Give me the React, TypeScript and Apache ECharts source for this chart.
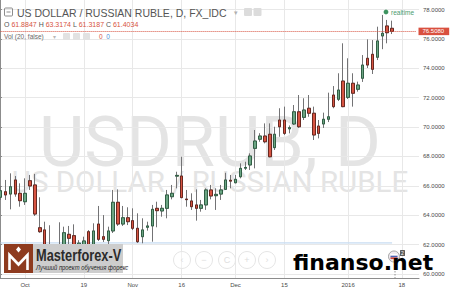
import React, { useEffect, useRef } from 'react';
import * as echarts from 'echarts';

// Trading days (FX_IDC keeps holidays as sessions), Sep 24 2015 .. Jan 21 2016
const DATES = [
  '2015-09-24', '2015-09-25', '2015-09-28', '2015-09-29', '2015-09-30',
  '2015-10-01', '2015-10-02', '2015-10-05', '2015-10-06', '2015-10-07', '2015-10-08', '2015-10-09',
  '2015-10-12', '2015-10-13', '2015-10-14', '2015-10-15', '2015-10-16',
  '2015-10-19', '2015-10-20', '2015-10-21', '2015-10-22', '2015-10-23',
  '2015-10-26', '2015-10-27', '2015-10-28', '2015-10-29', '2015-10-30',
  '2015-11-02', '2015-11-03', '2015-11-04', '2015-11-05', '2015-11-06',
  '2015-11-09', '2015-11-10', '2015-11-11', '2015-11-12', '2015-11-13',
  '2015-11-16', '2015-11-17', '2015-11-18', '2015-11-19', '2015-11-20',
  '2015-11-23', '2015-11-24', '2015-11-25', '2015-11-26', '2015-11-27',
  '2015-11-30', '2015-12-01', '2015-12-02', '2015-12-03', '2015-12-04',
  '2015-12-07', '2015-12-08', '2015-12-09', '2015-12-10', '2015-12-11',
  '2015-12-14', '2015-12-15', '2015-12-16', '2015-12-17', '2015-12-18',
  '2015-12-21', '2015-12-22', '2015-12-23', '2015-12-24', '2015-12-25',
  '2015-12-28', '2015-12-29', '2015-12-30', '2015-12-31', '2016-01-01',
  '2016-01-04', '2016-01-05', '2016-01-06', '2016-01-07', '2016-01-08',
  '2016-01-11', '2016-01-12', '2016-01-13', '2016-01-14', '2016-01-15',
  '2016-01-18', '2016-01-19', '2016-01-20', '2016-01-21',
];

const OPEN = [
  65.22, 65.60, 65.44, 66.40, 65.49, 64.92, 66.35, 66.06, 63.15, 63.00,
  61.8847, 61.45, 61.70, 61.85, 62.70, 62.61, 61.90, 61.85, 62.88, 61.95,
  63.40, 62.54, 62.27, 62.93, 64.88, 63.40, 63.83, 63.63, 63.11, 62.54,
  63.18, 63.27, 64.47, 64.29, 64.47, 65.26, 66.66, 66.67, 65.10, 64.97,
  64.70, 64.47, 64.70, 65.72, 65.33, 65.44, 65.76, 66.38, 66.21, 66.62,
  67.20, 67.42, 68.55, 69.17, 69.39, 69.51, 68.60, 70.48, 70.48, 69.88,
  70.21, 71.04, 70.66, 71.28, 70.94, 70.07, 70.21, 70.53, 72.18, 71.89,
  73.13, 72.02, 72.98, 72.57, 73.32, 74.68, 74.95, 74.75, 76.20, 76.88,
  76.72,
];
const CLOSE = [
  65.67, 65.38, 65.94, 65.44, 64.99, 65.49, 65.99, 64.08, 62.88, 61.86,
  61.4034, 61.85, 61.95, 62.81, 62.43, 61.90, 62.10, 62.25, 61.95, 62.93,
  62.36, 62.36, 62.93, 64.88, 63.40, 63.83, 63.56, 63.11, 62.20, 63.00,
  63.27, 64.40, 64.31, 64.47, 65.38, 65.49, 66.71, 65.20, 65.06, 64.58,
  64.47, 64.70, 65.72, 65.31, 65.42, 65.72, 66.40, 66.32, 66.44, 67.19,
  67.25, 68.03, 69.05, 69.39, 69.00, 67.98, 69.51, 70.02, 69.57, 69.96,
  71.04, 70.02, 71.16, 70.94, 69.46, 69.57, 70.53, 70.70, 71.39, 72.52,
  71.39, 72.98, 72.30, 72.86, 74.22, 74.22, 73.93, 75.86, 76.38, 76.42,
  76.508,
];
const LOW = [
  65.04, 65.04, 64.40, 65.26, 64.58, 64.70, 65.72, 63.95, 62.80, 61.60,
  61.3187, 61.20, 61.50, 61.70, 61.97, 61.75, 61.70, 61.70, 61.80, 61.85,
  62.25, 62.18, 61.97, 62.79, 63.27, 63.27, 63.33, 62.99, 62.11, 62.09,
  62.95, 62.20, 63.18, 63.90, 63.79, 65.08, 65.83, 65.15, 64.58, 64.36,
  63.63, 64.24, 64.36, 65.08, 64.36, 65.04, 65.72, 65.83, 66.17, 66.51,
  67.08, 67.08, 67.19, 69.00, 68.89, 67.94, 68.44, 69.34, 69.46, 69.57,
  70.14, 69.94, 70.48, 70.70, 69.12, 69.23, 69.94, 70.34, 71.28, 71.77,
  71.35, 71.91, 71.39, 72.41, 73.07, 74.02, 73.61, 74.56, 75.30, 75.70,
  76.33,
];
const HIGH = [
  65.99, 66.40, 66.85, 66.67, 66.17, 66.51, 66.74, 66.81, 65.22, 63.56,
  63.3174, 61.95, 63.52, 63.22, 63.27, 63.38, 62.30, 62.54, 62.99, 63.45,
  64.63, 64.01, 63.22, 65.72, 65.76, 64.63, 64.54, 64.47, 64.13, 63.79,
  63.56, 64.70, 64.92, 64.70, 65.72, 66.06, 66.96, 67.98, 65.72, 65.49,
  65.76, 65.04, 65.83, 66.06, 65.83, 66.06, 66.89, 66.74, 66.74, 67.53,
  67.64, 68.21, 69.80, 69.58, 70.25, 70.25, 70.02, 71.28, 71.39, 70.11,
  71.50, 72.18, 71.96, 72.18, 71.39, 70.48, 70.98, 72.34, 72.79, 73.66,
  75.70, 74.68, 73.66, 73.09, 74.90, 75.97, 75.92, 76.83, 77.63, 77.29,
  77.24,
];

// Volume is not reported for this symbol: volume and its 20-day MA are both 0
const VOLUME_VALUES = [0, 0];

const TICK_DATES = ['2015-10-01', '2015-10-19', '2015-11-02', '2015-11-16', '2015-12-01', '2015-12-15', '2016-01-01', '2016-01-18'];
const TICK_LABELS = ['Oct', '19', 'Nov', '16', 'Dec', '15', '2016', '18'];

const PRICE_MIN = 60;
const PRICE_MAX = 78;
const PRICE_STEP = 2;

const TITLE = 'US DOLLAR / RUSSIAN RUBLE, D, FX_IDC';
const WATERMARK_SYMBOL = 'USDRUB, D';
const WATERMARK_NAME = 'US DOLLAR / RUSSIAN RUBLE';
const HEADER_BAR = 10; // bar whose OHLC is shown in the legend

// ---- layout -------------------------------------------------------------
const W = 450;
const H = 290;
const AXIS_X = 419; // price scale line
const AXIS_Y = 278; // time scale line
const Y_AT_MAX = 9.5; // pixel row of PRICE_MAX
const Y_AT_MIN = 274; // pixel row of PRICE_MIN
const FIRST_X = 0.61; // centre of the first session
const STEP_X = 4.8935; // width of one session

const PX_PER_UNIT = (Y_AT_MIN - Y_AT_MAX) / (PRICE_MAX - PRICE_MIN);
const PRICE_TOP = PRICE_MAX + Y_AT_MAX / PX_PER_UNIT;
const PRICE_BOTTOM = PRICE_MIN - (AXIS_Y - Y_AT_MIN) / PX_PER_UNIT;
const LAST_X = FIRST_X + (DATES.length - 1) * STEP_X;

const UP = '#6ba583';
const UP_BORDER = '#225437';
const DOWN = '#d75442';
const DOWN_BORDER = '#5b1a13';
const WICK = '#737375';
const FONT = '"Liberation Sans", Arial, sans-serif';

function buildOption(): echarts.EChartsOption {
  const wicks = OPEN.map((o, i) => [o, CLOSE[i], LOW[i], HIGH[i]]);
  const bodies = OPEN.map((o, i) => [o, CLOSE[i], Math.min(o, CLOSE[i]), Math.max(o, CLOSE[i])]);
  const volumeMa = OPEN.map(() => VOLUME_VALUES[1]);
  const lastClose = CLOSE[CLOSE.length - 1];
  const isTick = (_i: number, v: string) => TICK_DATES.indexOf(v) >= 0;
  const f4 = (v: number) => v.toFixed(4);
  const navX = [182, 204, 227, 247, 267];
  const navGlyph = ['‹', '−', 'C', '+', '›'];

  return {
    animation: false,
    backgroundColor: '#ffffff',
    textStyle: { fontFamily: FONT },
    grid: [
      { left: 0, right: W - AXIS_X, top: 0, bottom: H - AXIS_Y },
      { left: FIRST_X, right: W - LAST_X, top: 0, bottom: H - AXIS_Y },
      { left: 0, right: W - AXIS_X, top: Y_AT_MAX, bottom: H - Y_AT_MIN },
      { left: FIRST_X, right: W - LAST_X, top: 200, bottom: 47 },
    ],
    xAxis: [
      {
        gridIndex: 0, type: 'value', min: 0, max: 1,
        axisLine: { show: true, lineStyle: { color: '#8c8c8c', width: 1 } },
        axisTick: { show: false }, axisLabel: { show: false }, splitLine: { show: false },
      },
      {
        gridIndex: 1, type: 'category', data: DATES, boundaryGap: false,
        axisLine: { show: false }, axisTick: { show: false },
        axisLabel: {
          interval: isTick,
          formatter: (v: string) => TICK_LABELS[TICK_DATES.indexOf(v)] ?? '',
          fontSize: 6, color: '#4a4a4a', margin: 3.5, fontFamily: FONT,
        },
        splitLine: { show: true, interval: isTick, lineStyle: { color: '#e8e8e8', width: 1 } },
      },
      { gridIndex: 2, type: 'value', min: 0, max: 1, show: false },
      { gridIndex: 3, type: 'category', data: DATES, boundaryGap: false, show: false },
    ],
    yAxis: [
      {
        gridIndex: 0, type: 'value', min: 0, max: 1, position: 'right',
        axisLine: { show: true, lineStyle: { color: '#8c8c8c', width: 1 } },
        axisTick: { show: false }, axisLabel: { show: false }, splitLine: { show: false },
      },
      { gridIndex: 1, type: 'value', min: PRICE_BOTTOM, max: PRICE_TOP, show: false, scale: true },
      {
        gridIndex: 2, type: 'value', min: PRICE_MIN, max: PRICE_MAX, interval: PRICE_STEP, position: 'right',
        axisLine: { show: false },
        axisTick: { show: true, length: 2, lineStyle: { color: '#8c8c8c' } },
        axisLabel: { formatter: f4, fontSize: 6, color: '#4a4a4a', margin: 4, fontFamily: FONT },
        splitLine: { show: true, lineStyle: { color: '#e8e8e8', width: 1 } },
      },
      { gridIndex: 3, type: 'value', min: 0, max: 1, show: false },
    ],
    series: [
      {
        name: 'wicks', type: 'candlestick', xAxisIndex: 1, yAxisIndex: 1,
        data: wicks, barWidth: 3, silent: true, z: 3,
        itemStyle: {
          color: 'rgba(0,0,0,0)', color0: 'rgba(0,0,0,0)',
          borderColor: WICK, borderColor0: WICK, borderColorDoji: WICK, borderWidth: 1,
        },
      },
      {
        name: 'USDRUB', type: 'candlestick', xAxisIndex: 1, yAxisIndex: 1,
        data: bodies, barWidth: 3, silent: true, z: 4,
        itemStyle: {
          color: UP, color0: DOWN, borderColor: UP_BORDER, borderColor0: DOWN_BORDER,
          borderColorDoji: DOWN_BORDER, borderWidth: 0.8,
        },
        markLine: {
          silent: true, symbol: 'none', animation: false,
          data: [{ yAxis: lastClose }],
          lineStyle: { color: '#d75442', type: 'dotted', width: 1 },
          label: {
            show: true, position: 'end', distance: AXIS_X - LAST_X - 0.5,
            formatter: () => f4(lastClose),
            color: '#ffffff', backgroundColor: '#d9503f', fontSize: 6, fontFamily: FONT,
            padding: [1, 5, 0.5, 4], lineHeight: 6,
          },
        },
      },
      {
        name: 'Vol MA', type: 'line', xAxisIndex: 3, yAxisIndex: 3,
        data: volumeMa, showSymbol: false, silent: true, z: 2,
        lineStyle: { color: '#c9ddf2', width: 1.5 },
      },
    ],
    graphic: [
      // symbol watermark
      {
        type: 'text', z: 0, silent: true,
        style: {
          text: WATERMARK_SYMBOL, x: 210, y: 142, align: 'center', verticalAlign: 'middle',
          fontFamily: 'Roboto', fontSize: 70, fill: '#e4e4e4',
        },
      },
      {
        type: 'text', z: 0, silent: true,
        style: {
          text: WATERMARK_NAME, x: 210, y: 182, align: 'center', verticalAlign: 'middle',
          fontFamily: 'Roboto', fontSize: 29.5, fill: '#e4e4e4',
        },
      },
      // legend: title row
      { type: 'rect', z: 50, shape: { x: 4.5, y: 8, width: 8, height: 8, r: 1 }, style: { fill: 'none', stroke: '#6f6f6f', lineWidth: 0.8 } },
      { type: 'line', z: 50, shape: { x1: 6.5, y1: 12, x2: 10.5, y2: 12 }, style: { stroke: '#6f6f6f', lineWidth: 0.8 } },
      {
        type: 'text', z: 50,
        style: { text: TITLE, x: 17, y: 12.5, verticalAlign: 'middle', fontFamily: FONT, fontSize: 10.5, fill: '#555555' },
      },
      { type: 'text', z: 50, style: { text: '▾', x: 234, y: 12, verticalAlign: 'middle', fontFamily: FONT, fontSize: 7, fill: '#b0b0b0' } },
      { type: 'rect', z: 50, shape: { x: 244, y: 8, width: 8, height: 8, r: 1 }, style: { fill: '#dcdcdc' } },
      { type: 'rect', z: 50, shape: { x: 253.5, y: 8, width: 8, height: 8, r: 1 }, style: { fill: '#dcdcdc' } },
      // legend: OHLC row
      {
        type: 'text', z: 50,
        style: {
          text: `{l|O} {v|${f4(OPEN[HEADER_BAR])}} {l|H} {v|${f4(HIGH[HEADER_BAR])}} {l|L} {v|${f4(LOW[HEADER_BAR])}} {l|C} {v|${f4(CLOSE[HEADER_BAR])}}`,
          x: 4, y: 24.5, verticalAlign: 'middle', fontFamily: FONT, fontSize: 7,
          rich: { l: { fill: '#555555', fontSize: 7, fontFamily: FONT }, v: { fill: '#d75442', fontSize: 7, fontFamily: FONT } },
        },
      },
      // legend: volume row
      { type: 'text', z: 50, style: { text: 'Vol (20, false)', x: 4, y: 36.5, verticalAlign: 'middle', fontFamily: FONT, fontSize: 6.5, fill: '#6a6a6a' } },
      { type: 'text', z: 50, style: { text: '▾', x: 53, y: 36.5, verticalAlign: 'middle', fontFamily: FONT, fontSize: 6, fill: '#b8b8b8' } },
      { type: 'rect', z: 50, shape: { x: 63, y: 33, width: 7, height: 7, r: 1 }, style: { fill: '#e2e2e2' } },
      { type: 'rect', z: 50, shape: { x: 73, y: 33, width: 7, height: 7, r: 1 }, style: { fill: '#e2e2e2' } },
      { type: 'rect', z: 50, shape: { x: 83, y: 33, width: 7, height: 7, r: 1 }, style: { fill: '#e2e2e2' } },
      {
        type: 'text', z: 50,
        style: {
          text: `{r|${VOLUME_VALUES[0]}}  {b|${VOLUME_VALUES[1]}}`, x: 99, y: 36.5, verticalAlign: 'middle', fontFamily: FONT, fontSize: 6.5,
          rich: { r: { fill: '#d75442', fontSize: 6.5 }, b: { fill: '#4a8fd8', fontSize: 6.5 } },
        },
      },
      // realtime badge
      { type: 'circle', z: 50, shape: { cx: 386, cy: 12, r: 2.4 }, style: { fill: '#3d9460' } },
      { type: 'text', z: 50, style: { text: 'realtime', x: 391, y: 12, verticalAlign: 'middle', fontFamily: FONT, fontSize: 6.5, fill: '#4b9a6d' } },
      // navigation buttons
      ...navX.map((cx) => ({
        type: 'circle', z: 40, shape: { cx, cy: 260, r: 8.5 }, style: { fill: 'rgba(255,255,255,0.4)', stroke: '#e6e6e6', lineWidth: 1 },
      })),
      ...navX.map((cx, i) => ({
        type: 'text', z: 41,
        style: { text: navGlyph[i], x: cx, y: 260, align: 'center', verticalAlign: 'middle', fontFamily: FONT, fontSize: 9, fill: '#dedede' },
      })),
      // economic event marker
      { type: 'line', z: 45, shape: { x1: 395, y1: 262, x2: 395, y2: AXIS_Y }, style: { stroke: '#7a7a7a', lineWidth: 0.8, lineDash: [1.5, 1.5] } },
      { type: 'circle', z: 45, shape: { cx: 394, cy: 256.5, r: 5.5 }, style: { fill: '#f1ecf1', stroke: '#8f8f8f', lineWidth: 0.8 } },
      { type: 'rect', z: 46, shape: { x: 390.5, y: 254, width: 7, height: 1.7 }, style: { fill: '#ffffff' } },
      { type: 'rect', z: 46, shape: { x: 390.5, y: 255.7, width: 7, height: 1.7 }, style: { fill: '#4a63b5' } },
      { type: 'rect', z: 46, shape: { x: 390.5, y: 257.4, width: 7, height: 1.7 }, style: { fill: '#d0453a' } },
      { type: 'rect', z: 46, shape: { x: 400, y: 250, width: 5, height: 6, r: 0.5 }, style: { fill: '#5c5c5c' } },
      { type: 'text', z: 47, style: { text: '2', x: 402.5, y: 253, align: 'center', verticalAlign: 'middle', fontFamily: FONT, fontSize: 5, fill: '#ffffff' } },
      // Masterforex-V badge
      { type: 'rect', z: 60, shape: { x: 4, y: 244, width: 29, height: 29 }, style: { fill: '#8e3b1f' } },
      {
        type: 'polyline', z: 61,
        shape: { points: [[9.5, 270], [9.5, 255], [18.5, 264.5], [27.5, 255], [27.5, 270]] },
        style: { stroke: '#ffffff', lineWidth: 2.6, fill: 'none', lineJoin: 'miter' },
      },
      { type: 'polygon', z: 61, shape: { points: [[18.5, 246.5], [21, 249.5], [18.5, 252.5], [16, 249.5]] }, style: { fill: '#ffffff' } },
      { type: 'rect', z: 60, shape: { x: 33, y: 244, width: 90, height: 29 }, style: { fill: '#cdcdcd' } },
      {
        type: 'text', z: 61, x: 36, y: 255.5, scaleX: 0.8,
        style: { text: 'Masterforex-V', x: 0, y: 0, verticalAlign: 'middle', fontFamily: FONT, fontWeight: 'bold', fontSize: 16, fill: '#2b2b2b' },
      },
      {
        type: 'text', z: 61, x: 36, y: 267.5, scaleX: 0.9,
        style: { text: 'Лучший проект обучения форекс', x: 0, y: 0, verticalAlign: 'middle', fontFamily: FONT, fontStyle: 'italic', fontSize: 6.5, fill: '#1e1e1e' },
      },
      // site mark
      {
        type: 'text', z: 70,
        style: { text: 'finanso.net', x: 293, y: 262.5, verticalAlign: 'middle', fontFamily: '"DejaVu Sans", sans-serif', fontWeight: 'bold', fontSize: 22, fill: '#000000' },
      },
    ],
  } as echarts.EChartsOption;
}

export default function App() {
  const ref = useRef<HTMLDivElement>(null);
  useEffect(() => {
    if (!ref.current) return;
    const chart = echarts.init(ref.current, undefined, { renderer: 'svg' });
    chart.setOption(buildOption());
    return () => chart.dispose();
  }, []);
  return (
    <div
      ref={ref}
      style={{ position: 'fixed', left: 0, top: 0, width: W, height: H, background: '#ffffff' }}
    />
  );
}
